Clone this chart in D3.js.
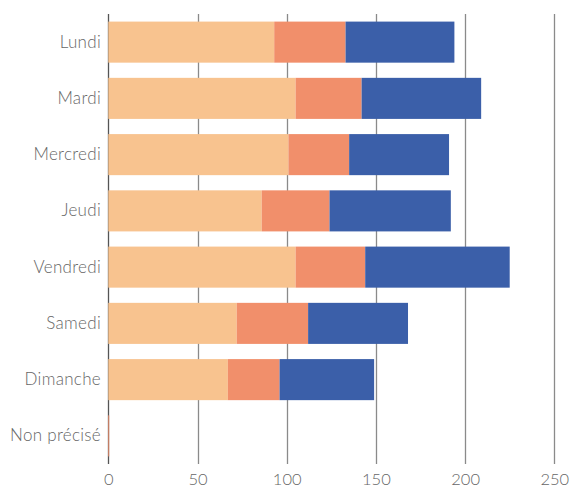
<!DOCTYPE html>
<html>
<head>
<meta charset="utf-8">
<script src="https://cdn.jsdelivr.net/npm/d3@7"></script>
<style>
	body { margin: 0; background: #fff; }
	svg text { font-family: "Lato", "Open Sans", sans-serif; font-weight: 300; }
</style>
</head>
<body>
<svg id="chart" width="570" height="489"></svg>
<script>
// data
var days = ["Lundi", "Mardi", "Mercredi", "Jeudi", "Vendredi", "Samedi", "Dimanche", "Non précisé"];
var seriesA = [93, 105, 101, 86, 105, 72, 67, 0];
var seriesB = [40, 37, 34, 38, 39, 40, 29, 0.5];
var seriesC = [61, 67, 56, 68, 81, 56, 53, 0];
var xTicks = [0, 50, 100, 150, 200, 250];

var colors = ["#f8c38f", "#f18f6b", "#3b5fa9"];
var labelColor = "#666";

var svg = d3.select("#chart");

var x = d3.scaleLinear()
	.domain([0, 250])
	.range([108.3, 554.3]);

var y = d3.scaleBand()
	.domain(days)
	.range([14, 464])
	.paddingInner(0.27)
	.paddingOuter(0.135);

// build rows for the stack
var rows = days.map(function(d, i) {
	return {day: d, a: seriesA[i], b: seriesB[i], c: seriesC[i]};
});
var stacked = d3.stack().keys(["a", "b", "c"])(rows);

// vertical grid lines (behind the bars)
svg.append("g")
	.selectAll("line")
	.data(xTicks)
	.enter().append("line")
	.attr("x1", function(d) { return Math.round(x(d)) + 0.5; })
	.attr("x2", function(d) { return Math.round(x(d)) + 0.5; })
	.attr("y1", 14)
	.attr("y2", 464)
	.style("stroke", function(d) { return d === 0 ? "#555" : "#8a8a8a"; })
	.style("stroke-width", 1.3);

// bars
svg.append("g")
	.selectAll("g")
	.data(stacked)
	.enter().append("g")
	.style("fill", function(d, i) { return colors[i]; })
	.selectAll("rect")
	.data(function(d) { return d; })
	.enter().append("rect")
	.attr("x", function(d) { return x(d[0]); })
	.attr("y", function(d) { return y(d.data.day); })
	.attr("width", function(d) { return x(d[1]) - x(d[0]); })
	.attr("height", y.bandwidth());

// x axis labels
var xAxis = d3.axisBottom(x)
	.tickValues(xTicks)
	.tickSize(0)
	.tickPadding(0);
var gx = svg.append("g")
	.attr("transform", "translate(0,473)")
	.call(xAxis);
gx.select(".domain").remove();
gx.selectAll("text")
	.attr("dy", "0.71em")
	.attr("fill", labelColor)
	.style("font-size", "16.5px");

// y axis labels
var yAxis = d3.axisLeft(y)
	.tickSize(0)
	.tickPadding(0);
var gy = svg.append("g")
	.attr("transform", "translate(101,0)")
	.call(yAxis);
gy.select(".domain").remove();
gy.selectAll("text")
	.attr("fill", labelColor)
	.style("font-size", "17px")
	.style("letter-spacing", "0.3px");
</script>
</body>
</html>
